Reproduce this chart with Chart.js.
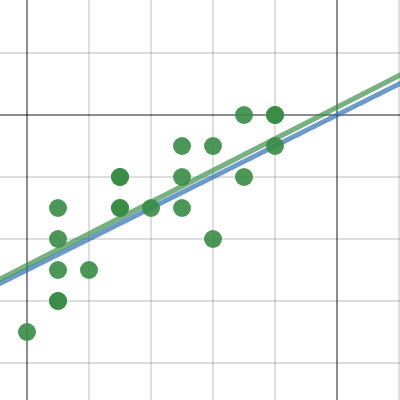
<!DOCTYPE html>
<html>
<head>
<meta charset="utf-8">
<script src="https://cdn.jsdelivr.net/npm/chart.js@4"></script>
<style>
  html, body { margin: 0; padding: 0; background: #fff; }
</style>
</head>
<body>
<canvas id="scatter-chart" width="400" height="400"></canvas>
<script>
// data points (duplicates show as darker dots)
const pointX = [0, 1, 1, 1, 1, 1, 2, 3, 3, 3, 3, 4, 5, 5, 5, 6, 6, 7, 7, 8, 8, 8];
const pointY = [3, 4, 4, 5, 6, 7, 5, 7, 7, 8, 8, 7, 7, 8, 9, 9, 6, 8, 10, 10, 10, 9];

// fitted lines, end points beyond the visible window
const lineX = [-2, 14];
const blueLineY = [4.0, 12.0];
const greenLineY = [4.13, 12.29];

function main(){
    const canvas = document.querySelector('#scatter-chart');

    const points = pointX.map((x, i) => ({ x: x, y: pointY[i] }));
    const blueLine = lineX.map((x, i) => ({ x: x, y: blueLineY[i] }));
    const greenLine = lineX.map((x, i) => ({ x: x, y: greenLineY[i] }));

    function gridColor(ctx, darkValues){
        if (darkValues.includes(ctx.tick.value)) {
            return 'rgba(0, 0, 0, 0.45)'
        }
        return 'rgba(0, 0, 0, 0.13)'
    }

    new Chart(canvas.getContext('2d'), {
        type: 'scatter',
        data: {
            datasets: [
                {
                    label: 'points',
                    data: points,
                    backgroundColor: 'rgba(56, 140, 70, 0.9)',
                    borderWidth: 0,
                    pointRadius: 9,
                    order: 0
                },
                {
                    label: 'green fit',
                    type: 'line',
                    data: greenLine,
                    borderColor: 'rgba(56, 140, 70, 0.68)',
                    borderWidth: 5,
                    pointRadius: 0,
                    fill: false,
                    order: 1
                },
                {
                    label: 'blue fit',
                    type: 'line',
                    data: blueLine,
                    borderColor: 'rgba(45, 112, 179, 0.7)',
                    borderWidth: 5,
                    pointRadius: 0,
                    fill: false,
                    order: 2
                }
            ]
        },
        options: {
            responsive: false,
            animation: false,
            layout: { padding: 0, autoPadding: false },
            plugins: {
                legend: { display: false },
                tooltip: { enabled: false }
            },
            scales: {
                x: {
                    type: 'linear',
                    min: -27 / 31,
                    max: 373 / 31,
                    border: { display: false },
                    ticks: { display: false, stepSize: 2, includeBounds: false },
                    grid: {
                        drawTicks: false,
                        lineWidth: 2,
                        color: ctx => gridColor(ctx, [0, 10])
                    }
                },
                y: {
                    type: 'linear',
                    min: 25 / 31,
                    max: 425 / 31,
                    border: { display: false },
                    ticks: { display: false, stepSize: 2, includeBounds: false },
                    grid: {
                        drawTicks: false,
                        lineWidth: 2,
                        color: ctx => gridColor(ctx, [10])
                    }
                }
            }
        }
    });
}

main()
</script>
</body>
</html>
